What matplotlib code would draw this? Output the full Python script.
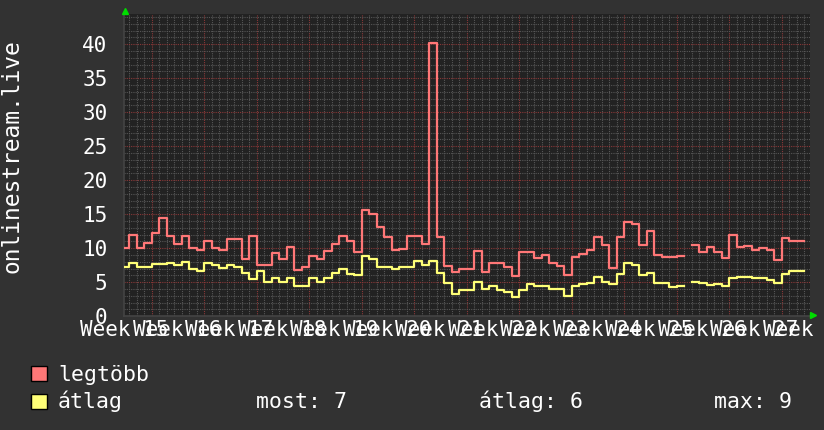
import numpy as np
import matplotlib
matplotlib.use("Agg")
import matplotlib.pyplot as plt
from matplotlib.patches import Rectangle
from matplotlib.lines import Line2D
from matplotlib.transforms import blended_transform_factory

plt.rcParams['font.family'] = ['DejaVu Sans Mono']

# daily samples, first one is 4 days before the first week line
first_day = -4
legtobb = [10.1, 12.0, 10.1, 10.8, 12.2, 14.5, 11.8, 10.7, 11.8, 10.0,
           9.7, 11.0, 10.0, 9.8, 11.4, 11.4, 8.4, 11.8, 7.6, 7.6,
           9.3, 8.4, 10.2, 6.8, 7.2, 8.8, 8.4, 9.6, 10.7, 11.8,
           11.0, 9.4, 15.6, 15.1, 13.1, 11.7, 9.7, 9.9, 11.8, 11.8,
           10.7, 40.2, 11.6, 7.4, 6.5, 7.0, 7.0, 9.6, 6.5, 7.8,
           7.8, 7.3, 5.9, 9.4, 9.4, 8.5, 9.0, 7.8, 7.4, 6.1,
           8.7, 9.2, 9.8, 11.6, 10.5, 7.1, 11.7, 13.9, 13.6, 10.5,
           12.6, 9.0, 8.7, 8.7, 8.8, np.nan, 10.5, 9.5, 10.2, 9.5,
           8.5, 11.9, 10.2, 10.4, 9.7, 10.0, 9.7, 8.3, 11.5, 11.0,
           11.0]
atlag = [7.2, 7.8, 7.2, 7.2, 7.7, 7.7, 7.8, 7.5, 8.0, 7.0,
         6.6, 7.9, 7.6, 7.1, 7.5, 7.3, 6.3, 5.5, 6.6, 5.0,
         5.6, 5.0, 5.6, 4.4, 4.5, 5.6, 5.0, 5.6, 6.3, 6.9,
         6.2, 6.1, 8.8, 8.4, 7.3, 7.3, 7.0, 7.3, 7.3, 8.2,
         7.5, 8.2, 6.3, 4.9, 3.3, 3.8, 3.8, 5.0, 4.0, 4.5,
         3.9, 3.6, 2.8, 3.9, 4.8, 4.4, 4.4, 4.0, 4.0, 3.0,
         4.5, 4.8, 4.9, 5.8, 5.0, 4.7, 6.2, 7.9, 7.6, 6.1,
         6.4, 4.9, 4.9, 4.3, 4.4, np.nan, 5.1, 4.9, 4.6, 4.8,
         4.5, 5.6, 5.8, 5.8, 5.7, 5.7, 5.3, 4.9, 6.2, 6.7,
         6.7]
week_labels = ["Week %d" % w for w in range(15, 29)]
stats = ["most: 7", "átlag: 6", "max: 9"]

BG = '#323232'
CANVAS = '#222222'
RED = '#ff7777'
YELLOW = '#ffff77'

fig = plt.figure(figsize=(8.24, 4.30), dpi=100, facecolor=BG)
W, H = 824.0, 430.0
ax = fig.add_axes([124 / W, 1 - 316.3 / H, 686 / W, 302.3 / H], facecolor=CANVAS)

days = np.arange(first_day, first_day + len(legtobb) + 1)
ax.step(days, legtobb + [legtobb[-1]], where='post', color=RED, lw=1.6, zorder=3)
ax.step(days, atlag + [atlag[-1]], where='post', color=YELLOW, lw=1.6, zorder=3)

ax.set_xlim(-3.69, 87.77)
ax.set_ylim(0, 44.45)

ax.set_xticks(np.arange(0, 88, 7))
ax.set_xticks(np.arange(-3, 88, 1), minor=True)
ax.set_yticks(np.arange(0, 41, 5))
ax.set_yticks(np.arange(0, 45, 1), minor=True)
ax.set_xticklabels([])
ax.tick_params(axis='both', which='both', length=0)
ax.tick_params(axis='y', colors='white', labelsize=15, pad=12)

ax.grid(which='minor', color='#565656', lw=0.8, linestyle=(0, (1, 1)))
ax.grid(which='major', color='#8a3838', lw=0.8, linestyle=(0, (1, 1)))
ax.set_axisbelow(True)

for s in ['top', 'right']:
    ax.spines[s].set_visible(False)
for s in ['left', 'bottom']:
    ax.spines[s].set_color('#444444')
    ax.spines[s].set_linewidth(1.2)

# week labels overlap each other like in the original
trans = blended_transform_factory(ax.transData, ax.transAxes)
for i, lab in enumerate(week_labels):
    ax.text(-3.65 + 7 * i, -0.046, lab, transform=trans, ha='center', va='center',
            color='white', fontsize=15, clip_on=False)

fig.text(12 / W, 1 - 156 / H, "onlinestream.live", rotation=90, ha='center',
         va='center', color='white', fontsize=16.5)

# green arrows at the axis ends
fig.add_artist(Line2D([125 / W], [1 - 11 / H], marker='^', color='#00dd00',
                      markersize=5, transform=fig.transFigure))
fig.add_artist(Line2D([813 / W], [1 - 314.5 / H], marker='>', color='#00dd00',
                      markersize=5, transform=fig.transFigure))

# legend
fig.add_artist(Rectangle((31.5 / W, 1 - 381 / H), 15.5 / W, 15 / H, transform=fig.transFigure,
                         facecolor=RED, edgecolor='black', lw=1))
fig.add_artist(Rectangle((31.5 / W, 1 - 408.5 / H), 15.5 / W, 15 / H, transform=fig.transFigure,
                         facecolor=YELLOW, edgecolor='black', lw=1))
fig.text(58 / W, 1 - 381 / H, "legtöbb", color='white', fontsize=15.5, va='baseline')
fig.text(58 / W, 1 - 408.5 / H, "átlag", color='white', fontsize=15.5, va='baseline')
for xpos, txt in zip([256, 479, 714], stats):
    fig.text(xpos / W, 1 - 408.5 / H, txt, color='white', fontsize=15.5, va='baseline')

fig.savefig("out.png", dpi=100, facecolor=BG)
